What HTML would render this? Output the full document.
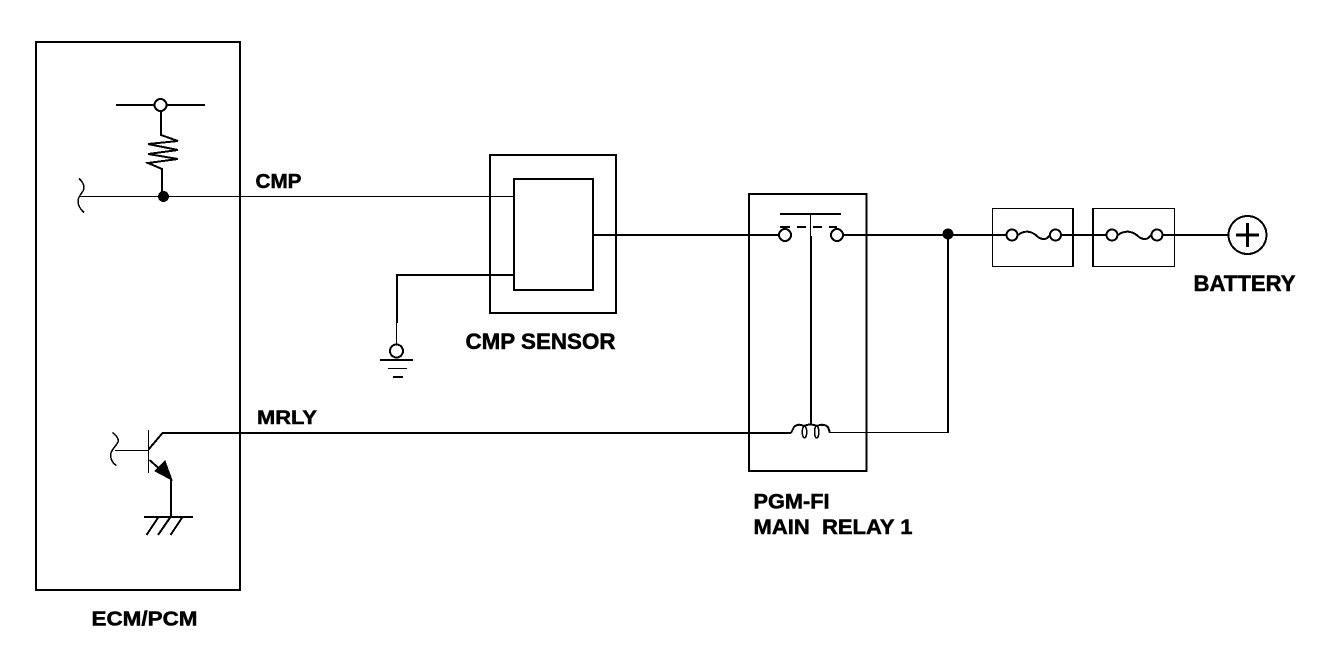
<!DOCTYPE html>
<html><head><meta charset="utf-8"><style>
html,body{margin:0;padding:0;background:#fff;width:1328px;height:650px;overflow:hidden}
svg{display:block}
text{font-family:"Liberation Sans",sans-serif;font-weight:bold;fill:#000;stroke:#000;stroke-width:.5px;white-space:pre}
</style></head><body>
<svg width="1328" height="650" viewBox="0 0 1328 650" xmlns="http://www.w3.org/2000/svg" fill="none" stroke="#000" shape-rendering="crispEdges">
<!-- ECM box -->
<rect x="36" y="42" width="204" height="548" stroke-width="2"/>
<!-- pull-up -->
<path d="M116 105H205" stroke-width="2"/>
<circle cx="160.500" cy="105" r="6" fill="#fff" stroke-width="2"/>
<path d="M161 111V135L178 141L148 144L178 150L148 154L178 159L148 163L162 169V196" stroke-width="2"/>
<circle cx="163.500" cy="196.500" r="5.500" fill="#000" stroke="none"/>
<path d="M79 178.500C84 183 85 187 83 191C80 195 78 198 78 201C78 205 80 209 84 212.500" stroke-width="1.500"/>
<path d="M80 196.500H514" stroke-width="1"/>
<!-- transistor -->
<path d="M112.500 432.500C117 436 119 439 118 442C116 446 112 449 111 453C110 458 112 463 116.500 465.500" stroke-width="1.500"/>
<path d="M115 450.500H148" stroke-width="1"/>
<path d="M148.500 430V473" stroke-width="1"/>
<path d="M148.500 449.500L162.500 433H240" stroke-width="2"/>
<path d="M149.500 460L171 479" stroke-width="2"/>
<path d="M155 471L165 461L172 480Z" fill="#000" stroke="#000" stroke-width="1"/>
<path d="M171 479V517" stroke-width="2"/>
<path d="M144 517H193" stroke-width="2"/>
<path d="M146.500 535L158.500 517M158 535L170.500 517M170.500 535L182.500 517" stroke-width="2"/>
<!-- MRLY line -->
<path d="M240 433H791" stroke-width="2"/>
<!-- CMP sensor -->
<rect x="490" y="155" width="126" height="158" stroke-width="2"/>
<rect x="514" y="179" width="79" height="111" stroke-width="2"/>
<path d="M593 235H778" stroke-width="2"/>
<path d="M514 275H397V323" stroke-width="2"/>
<path d="M396.500 323V345" stroke-width="1"/>
<circle cx="396.500" cy="351" r="6.500" fill="#fff" stroke-width="2"/>
<path d="M380 360H413" stroke-width="2"/>
<path d="M388 368.500H407" stroke-width="1"/>
<path d="M393 377H403" stroke-width="2"/>
<!-- Relay -->
<rect x="749" y="194" width="117.500" height="277" stroke-width="2"/>
<path d="M780 214H841" stroke-width="2"/>
<path d="M810.500 214V236" stroke-width="1"/>
<path d="M811 236V424" stroke-width="2"/>
<path d="M780 227H790M797 227H806M813 227H822M829 227H837" stroke-width="2"/>
<circle cx="785" cy="235" r="6" fill="#fff" stroke-width="2"/>
<circle cx="837" cy="235" r="6" fill="#fff" stroke-width="2"/>
<path d="M791 433L794 427Q798 423 804 426Q810 423 817 426Q823 423 828 427L830 433" stroke-width="2"/>
<ellipse cx="804.500" cy="432" rx="2.200" ry="6" stroke-width="1.500"/>
<ellipse cx="816.700" cy="432" rx="2.200" ry="6" stroke-width="1.500"/>
<circle cx="948" cy="234" r="5.500" fill="#000" stroke="none"/>
<path d="M843 235H1008" stroke-width="2"/>
<path d="M948 234V433" stroke-width="2"/>
<path d="M830 432.500H948" stroke-width="1"/>
<!-- Fuses -->
<rect x="992.500" y="208.500" width="80" height="58" stroke-width="1"/>
<path d="M1073 208V267" stroke-width="2"/>
<path d="M1093 208V267" stroke-width="2"/>
<path d="M1093 208.500H1174.500V266.500H1093" stroke-width="1"/>
<path d="M1061 235H1106M1163 235H1229" stroke-width="2"/>
<circle cx="1012" cy="235" r="5.500" fill="#fff" stroke-width="2"/>
<circle cx="1055.500" cy="235" r="5.500" fill="#fff" stroke-width="2"/>
<path d="M1018 235C1026 229 1033 232 1038 237C1042 240 1047 240 1050 235" stroke-width="2"/>
<circle cx="1112" cy="235" r="5.500" fill="#fff" stroke-width="2"/>
<circle cx="1157" cy="235" r="5.500" fill="#fff" stroke-width="2"/>
<path d="M1118 235C1126 229 1134 232 1139 237C1143 240 1148 240 1151 235" stroke-width="2"/>
<circle cx="1247.500" cy="235" r="19" fill="#fff" stroke-width="2"/>
<path d="M1236 235H1259M1247.500 223V247" stroke-width="3"/>
<!-- Labels -->
<g shape-rendering="auto">
<text x="255.500" y="188" font-size="20" textLength="46" lengthAdjust="spacingAndGlyphs">CMP</text>
<text x="257" y="424" font-size="19" textLength="60" lengthAdjust="spacingAndGlyphs">MRLY</text>
<text x="465.500" y="349" font-size="22" textLength="150" lengthAdjust="spacingAndGlyphs">CMP SENSOR</text>
<text x="1193.500" y="291" font-size="22" textLength="102" lengthAdjust="spacingAndGlyphs">BATTERY</text>
<text x="753.500" y="508.500" font-size="21" textLength="76" lengthAdjust="spacingAndGlyphs">PGM-FI</text>
<text x="753.500" y="534" font-size="21" textLength="159" lengthAdjust="spacingAndGlyphs">MAIN  RELAY 1</text>
<text x="91.500" y="625.500" font-size="20" textLength="106" lengthAdjust="spacingAndGlyphs">ECM/PCM</text>
</g>
</svg>
</body></html>
